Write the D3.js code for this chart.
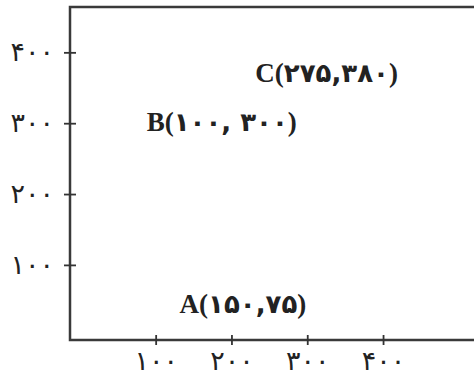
<!DOCTYPE html>
<html>
<head>
<meta charset="utf-8">
<script src="https://cdn.jsdelivr.net/npm/d3@7"></script>
<style>
body { margin:0; background:#fff; }
</style>
</head>
<body>
<div class="top"></div>
<script>

// data
const xTicks = [100, 200, 300, 400]
const yTicks = [100, 200, 300, 400]
const pointNames = ['A', 'B', 'C']
const pointX = [150, 100, 275]
const pointY = [75, 300, 380]
// label nudges (px) relative to the point
const labelDx = [-14, -9, -33]
const labelDy = [30, 8, 15]

const fa = n => String(n).replace(/[0-9]/g, d => '۰۱۲۳۴۵۶۷۸۹'[d])

const W = 474, H = 376
const x = d3.scaleLinear().domain([-13, 520]).range([70, 474])
const y = d3.scaleLinear().domain([-6, 464]).range([340, 7])

const points = pointNames.map((n,i)=>({name:n, x:pointX[i], y:pointY[i], dx:labelDx[i], dy:labelDy[i]}))

const svg = d3.select('.top').selectChildren('svg').data([1])
	.join('svg')
		.attr('width', W)
		.attr('height', H)

// frame: top line + y axis + x axis
svg.selectChildren('.frame').data([1])
	.join('path').attr('class','frame')
		.attr('fill','none')
		.attr('stroke','#3a3a3a')
		.attr('stroke-width',2.5)
		.attr('d', `M${x.range()[1]},${y.range()[1]}H${x.range()[0]}V${y.range()[0]}H${x.range()[1]}`)

const tickFont = sel => sel
	.attr('fill','#222')
	.style('font-family','"DejaVu Sans", sans-serif')
	.style('font-size','27px')

svg.selectChildren('.y-axis').data([1])
	.join('g').attr('class','y-axis')
		.attr('transform',`translate(${x.range()[0]},0)`)
		.call(d3.axisLeft(y).tickValues(yTicks).tickSize(6).tickPadding(10).tickFormat(fa))
		.call(sel=>{
			sel.select('.domain').remove()
			sel.selectAll('.tick line').attr('x1',6).attr('x2',-6).attr('stroke','#333').attr('stroke-width',1.8)
			sel.selectAll('.tick text').call(tickFont).attr('dy','0.3em')
		})

svg.selectChildren('.x-axis').data([1])
	.join('g').attr('class','x-axis')
		.attr('transform',`translate(0,${y.range()[0]})`)
		.call(d3.axisBottom(x).tickValues(xTicks).tickSize(5).tickPadding(6).tickFormat(fa))
		.call(sel=>{
			sel.select('.domain').remove()
			sel.selectAll('.tick line').attr('y1',-5).attr('y2',5).attr('stroke','#333').attr('stroke-width',1.8)
			sel.selectAll('.tick text').call(tickFont)
		})

svg.selectChildren('.pt').data(points)
	.join('text').attr('class','pt')
		.attr('x', d=>x(d.x)+d.dx)
		.attr('y', d=>y(d.y)+d.dy)
		.attr('fill','#222')
		.style('font-weight','bold')
		.call(sel=>{
			sel.selectChildren('tspan').data(d=>[
					{t:d.name+'(', f:'"Liberation Serif", serif', s:27},
					{t:fa(d.x)+','+(d.name=='B'?' ':''), f:'"DejaVu Sans", sans-serif', s:26},
					{t:fa(d.y), f:'"DejaVu Sans", sans-serif', s:26},
					{t:')', f:'"Liberation Serif", serif', s:27}
				])
				.join('tspan')
					.style('font-family',t=>t.f)
					.style('font-size',t=>t.s+'px')
					.text(t=>t.t)
		})

</script>
</body>
</html>
